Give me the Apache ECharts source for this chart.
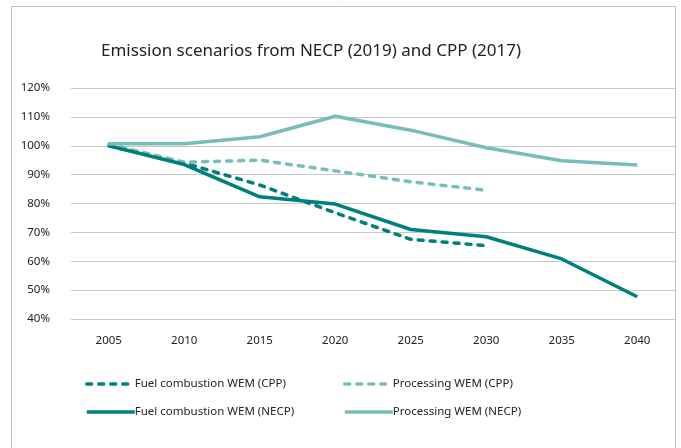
<!DOCTYPE html>
<html>
<head>
<meta charset="utf-8">
<script src="https://cdn.jsdelivr.net/npm/echarts@6/dist/echarts.min.js"></script>
<style>
  html,body{margin:0;padding:0;background:#fff}
  #chart{width:681px;height:448px}
</style>
</head>
<body>
<div id="chart"></div>
<script>
// 年份 + 四条情景线(% of 2005)
const years = ['2005','2010','2015','2020','2025','2030','2035','2040']
const fuelCPP  = [100, 94, 86.4, 76.8, 67.6, 65.4]
const procCPP  = [100.5, 94.3, 95, 91.3, 87.5, 84.6]
const fuelNECP = [100, 93.5, 82.3, 79.8, 71, 68.5, 60.8, 47.7]
const procNECP = [100.7, 100.7, 103.1, 110.2, 105.4, 99.3, 94.8, 93.3]

const DARK = '#00807a', LIGHT = '#77bdb8'
const FONT = 'Noto Sans'

const line = (name, data, color, dashed) => ({
  name, type:'line', data, symbol:'none', smooth:false,
  lineStyle:{color, width:3.5, type: dashed ? [5,7] : 'solid', cap: dashed ? 'round' : 'butt'},
  itemStyle:{color}
})

const legendBase = {orient:'vertical', top:373, itemGap:16, itemWidth:48, itemHeight:10,
  itemStyle:{opacity:0}, lineStyle:{width:3.5},
  textStyle:{fontSize:11.5, color:'#222', padding:[0,0,0,-5]}}

const c = echarts.init(document.getElementById('chart'))
c.setOption({
  animation:false,
  textStyle:{fontFamily:FONT},
  title:{text:'Emission scenarios from NECP (2019) and CPP (2017)', left:96, top:38,
    textStyle:{fontFamily:FONT, fontSize:17, fontWeight:'normal', color:'#222'}},
  graphic:[{type:'rect', shape:{x:11.5, y:6.5, width:664, height:460}, silent:true,
    style:{fill:'none', stroke:'#bdbdbd', lineWidth:1}}],
  grid:{left:71, right:6, top:88, bottom:129},
  xAxis:{type:'category', data:years, boundaryGap:true,
    axisLine:{show:false}, axisTick:{show:false},
    axisLabel:{color:'#222', fontSize:11.5, margin:16}},
  yAxis:{type:'value', min:40, max:120, interval:10,
    axisLine:{show:false}, axisTick:{show:false},
    axisLabel:{color:'#222', fontSize:11.5, formatter:'{value}%', margin:21},
    splitLine:{lineStyle:{color:'#c8c8c8', width:1}}},
  legend:[
    Object.assign({data:['Fuel combustion WEM (CPP)','Fuel combustion WEM (NECP)'], left:80}, legendBase),
    Object.assign({data:['Processing WEM (CPP)','Processing WEM (NECP)'], left:338}, legendBase)
  ],
  series:[
    line('Fuel combustion WEM (CPP)', fuelCPP, DARK, true),
    line('Processing WEM (CPP)', procCPP, LIGHT, true),
    line('Fuel combustion WEM (NECP)', fuelNECP, DARK, false),
    line('Processing WEM (NECP)', procNECP, LIGHT, false)
  ]
})
</script>
</body>
</html>
